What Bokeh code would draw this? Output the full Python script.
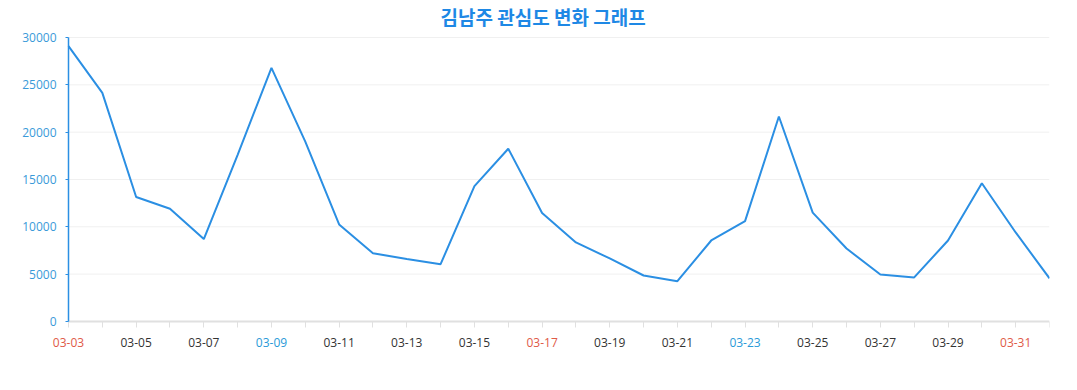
from bokeh.plotting import figure
from bokeh.models import FixedTicker, Range1d, ColumnDataSource
from bokeh.core.properties import value
from bokeh.embed import file_html
from bokeh.resources import INLINE
import datetime

# ---- data ----
dates = ["03-03", "03-04", "03-05", "03-06", "03-07", "03-08", "03-09", "03-10",
         "03-11", "03-12", "03-13", "03-14", "03-15", "03-16", "03-17", "03-18",
         "03-19", "03-20", "03-21", "03-22", "03-23", "03-24", "03-25", "03-26",
         "03-27", "03-28", "03-29", "03-30", "03-31", "04-01"]
values = [29100, 24150, 13150, 11900, 8700, 17600, 26800, 19000,
          10250, 7200, 6600, 6050, 14300, 18250, 11450, 8350,
          6650, 4850, 4250, 8550, 10600, 21650, 11500, 7700,
          4950, 4650, 8550, 14600, 9400, 4550]
y_ticks = [0, 5000, 10000, 15000, 20000, 25000, 30000]
year = 2019
title_text = "김남주 관심도 변화 그래프"

idx = list(range(len(dates)))
n = len(dates)
y_min, y_max = y_ticks[0], y_ticks[-1]

def weekday_of(d):
    m, dd = d.split("-")
    return datetime.date(year, int(m), int(dd)).weekday()

# layout (pixels)
W, H = 1061, 374
frame_left, plot_left, plot_right = 10, 68, 1049   # frame extends left of the y axis
frame_top, plot_top, plot_bottom, frame_bottom = 30, 38, 321, 356
px_x = (plot_right - plot_left) / (n - 1)
px_y = (plot_bottom - plot_top) / (y_max - y_min)
x_start = -(plot_left - frame_left) / px_x
y_start = y_min - (frame_bottom - plot_bottom) / px_y
y_end = y_max + (plot_top - frame_top) / px_y

p = figure(width=W, height=H, output_backend="svg", toolbar_location=None,
           x_range=Range1d(x_start, n - 1), y_range=Range1d(y_start, y_end),
           min_border_left=frame_left, min_border_right=W - plot_right,
           min_border_bottom=H - frame_bottom, min_border_top=0)

p.title.text = title_text
p.title.align = "left"
p.title.offset = 440 - frame_left
p.title.text_color = "#1e88e5"
p.title.text_font = "Noto Sans CJK KR"
p.title.text_font_size = "19px"
p.title.text_font_style = "bold"
p.title.standoff = 0

p.outline_line_color = None
p.xgrid.grid_line_color = None
p.ygrid.grid_line_color = None

# horizontal guide lines, only across the plotting area
gy = y_ticks[1:]
p.segment(x0=[0] * len(gy), x1=[n - 1] * len(gy), y0=gy, y1=gy,
          line_color="#f0f0f0", line_width=1)

p.line(idx, values, line_color="#2b8fe3", line_width=2)

# y axis at x = 0
p.yaxis.fixed_location = 0
p.yaxis.ticker = FixedTicker(ticks=y_ticks)
p.yaxis.bounds = (y_min, y_max)
p.yaxis.axis_line_color = "#2b8fe3"
p.yaxis.axis_line_width = 1.5
p.yaxis.major_tick_line_color = "#2b8fe3"
p.yaxis.major_tick_out = 3
p.yaxis.major_tick_in = 0
p.yaxis.minor_tick_line_color = None
p.yaxis.major_label_text_color = "#3a9ad9"
p.yaxis.major_label_text_font = "Open Sans"
p.yaxis.major_label_text_font_size = "12px"
p.yaxis.major_label_standoff = 9

# x axis at y = 0 (line + ticks); date labels are text glyphs
p.xaxis.fixed_location = y_min
p.xaxis.ticker = FixedTicker(ticks=idx)
p.xaxis.bounds = (0, n - 1)
p.xaxis.axis_line_color = "#e0e0e0"
p.xaxis.axis_line_width = 2
p.xaxis.major_tick_line_color = "#e0e0e0"
p.xaxis.major_tick_out = 6
p.xaxis.major_tick_in = 0
p.xaxis.minor_tick_line_color = None
p.xaxis.major_label_overrides = {i: "" for i in idx}
p.xaxis.major_label_text_font_size = "1px"
p.xaxis.major_label_standoff = 0

sun_col, sat_col, day_col = "#e05a47", "#2a9ad8", "#333333"
lx, lt, lc = [], [], []
for i, d in enumerate(dates):
    if i % 2 == 0:
        wd = weekday_of(d)
        lx.append(i); lt.append(d)
        lc.append(sun_col if wd == 6 else (sat_col if wd == 5 else day_col))

src = ColumnDataSource(dict(x=lx, t=lt, c=lc))
p.text(x="x", y=y_min, text="t", text_color="c", source=src,
       y_offset=21, text_align="center", text_baseline="middle",
       text_font=value("Open Sans"), text_font_size="12px")

open("out.html", "w").write(file_html(p, INLINE))
